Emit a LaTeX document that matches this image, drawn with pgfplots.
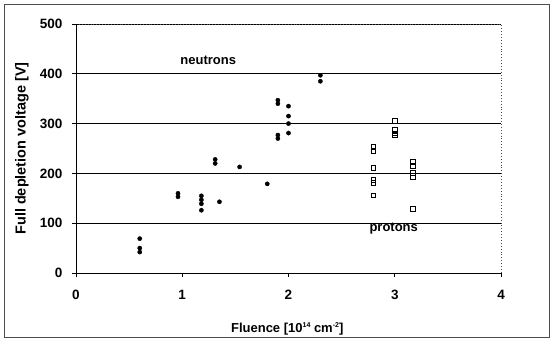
\documentclass[border=0pt]{standalone}
\usepackage{pgfplots}
\pgfplotsset{compat=1.18}
\usepackage{fontspec}
\setmainfont{Liberation Sans}
\newcommand{\sups}[1]{\raisebox{5pt}{\fontsize{7}{7}\selectfont\bfseries #1}}
\begin{document}
\begin{tikzpicture}[x=1pt,y=1pt]
\useasboundingbox (0,0) rectangle (551,340);
\draw[line width=0.8pt, black!70] (4,3) rectangle (549,336);
\begin{axis}[
  at={(76pt,67pt)}, anchor=south west,
  scale only axis, width=425pt, height=249pt,
  xmin=0, xmax=4, ymin=0, ymax=500,
  xtick={0,1,2,3,4}, ytick={0,100,200,300,400,500},
  tick align=outside, tick pos=left,
  major tick length=4pt,
  ymajorgrids, grid style={black, line width=0.8pt},
  axis line style={draw=none},
  tick style={black, line width=0.8pt},
  ticklabel style={font=\fontsize{13.5}{13.5}\selectfont\bfseries},
  xticklabel style={yshift=-10pt},
  yticklabel style={xshift=-6pt},
  /pgf/number format/assume math mode=true,
  xlabel={\fontsize{13}{13}\selectfont\bfseries Fluence [10\sups{14} cm\sups{-2}]},
  ylabel={\fontsize{14.5}{14.5}\selectfont\bfseries Full depletion voltage [V]},
  xlabel style={at={(axis description cs:0.497,-0.225)}, anchor=center},
  ylabel style={at={(axis description cs:-0.127,0.5)}, anchor=center},
  clip=false,
]
% plot area frame: top and right dotted, left and bottom solid
\draw[black!70, line width=0.9pt, dotted] (axis cs:0,500) -- (axis cs:4,500) -- (axis cs:4,0);
\draw[black, line width=0.8pt] (axis cs:0,500) -- (axis cs:0,0) -- (axis cs:4,0);
% neutrons
\addplot[only marks, mark=*, mark size=2.1pt, black] coordinates {
(0.6,69) (0.6,50) (0.6,42)
(0.96,160) (0.96,153)
(1.18,155) (1.18,147) (1.18,139) (1.18,126)
(1.31,228) (1.31,220)
(1.35,143)
(1.54,213)
(1.80,179)
(1.90,347) (1.90,340) (1.90,277) (1.90,270)
(2.00,335) (2.00,315) (2.00,300) (2.00,281)
(2.30,397) (2.30,385)
};
% protons
\addplot[only marks, mark=square, mark size=2.3pt, black, line width=0.8pt] coordinates {
(2.80,253) (2.80,245) (2.80,211) (2.80,187) (2.80,181) (2.80,156)
(3.00,305) (3.00,287) (3.00,280) (3.00,276)
(3.17,223) (3.17,215) (3.17,201) (3.17,192) (3.17,129)
};
\node[font=\fontsize{13}{13}\selectfont\bfseries] at (axis cs:1.245,428) {neutrons};
\node[font=\fontsize{13}{13}\selectfont\bfseries] at (axis cs:2.99,89) {protons};
\end{axis}
\end{tikzpicture}
\end{document}
